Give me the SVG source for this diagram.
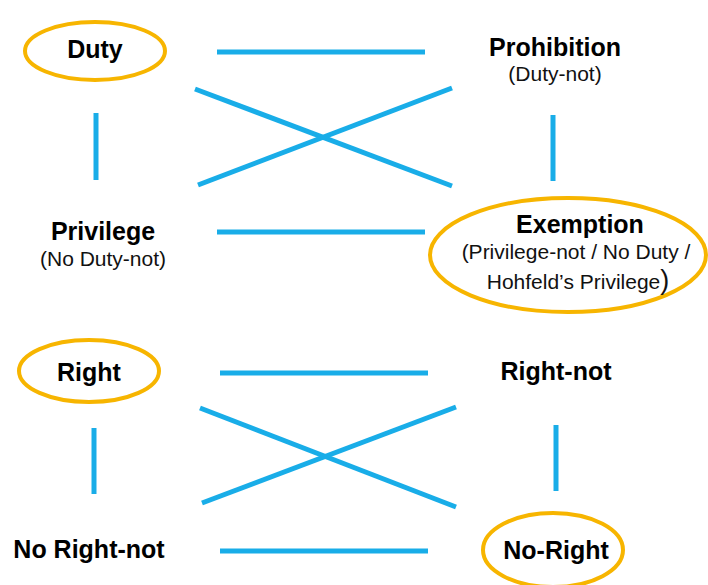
<svg xmlns="http://www.w3.org/2000/svg" width="708" height="585" viewBox="0 0 708 585">
<style>
.bg{fill:#ffffff}
.ell{fill:none;stroke:#F7B500;stroke-width:4}
.h{font-family:"Liberation Sans",Arial,sans-serif;font-weight:bold;font-size:25px;fill:#000;text-anchor:middle}
.s{font-family:"Liberation Sans",Arial,sans-serif;font-size:21px;fill:#111;text-anchor:middle}
.c line{stroke:#19ADE8;stroke-width:5;stroke-linecap:butt}
</style>
<rect class="bg" x="0" y="0" width="708" height="585"/>
<g class="c" id="connectors">
<line x1="217" y1="52" x2="425" y2="52"/>
<line x1="195" y1="89" x2="452" y2="186"/>
<line x1="198" y1="185" x2="452" y2="88"/>
<line x1="96" y1="113" x2="96" y2="180"/>
<line x1="553" y1="115" x2="553" y2="181"/>
<line x1="217" y1="232" x2="425" y2="232"/>
<line x1="220" y1="373" x2="428" y2="373"/>
<line x1="200" y1="408" x2="456" y2="507"/>
<line x1="202" y1="503" x2="456" y2="407"/>
<line x1="94" y1="428" x2="94" y2="494"/>
<line x1="556" y1="425" x2="556" y2="491"/>
<line x1="220" y1="551" x2="428" y2="551"/>
</g>
<g id="duty">
<ellipse class="ell" cx="95" cy="51" rx="70" ry="29"/>
<text class="h" x="95" y="58">Duty</text>
</g>
<g id="prohibition">
<text class="h" x="555" y="56">Prohibition</text>
<text class="s" x="555" y="81">(Duty-not)</text>
</g>
<g id="privilege">
<text class="h" x="103" y="240">Privilege</text>
<text class="s" x="103" y="266">(No Duty-not)</text>
</g>
<g id="exemption">
<ellipse class="ell" cx="568" cy="255" rx="138" ry="57"/>
<text class="h" x="580" y="233">Exemption</text>
<text class="s" x="576" y="259">(Privilege-not / No Duty /</text>
<text class="s" x="578" y="289">Hohfeld’s Privilege<tspan font-size="27">)</tspan></text>
</g>
<g id="right">
<ellipse class="ell" cx="89" cy="371" rx="70" ry="31"/>
<text class="h" x="89" y="381">Right</text>
</g>
<g id="right-not">
<text class="h" x="556" y="380">Right-not</text>
</g>
<g id="no-right-not">
<text class="h" x="89" y="558">No Right-not</text>
</g>
<g id="no-right">
<ellipse class="ell" cx="553" cy="550" rx="70" ry="37"/>
<text class="h" x="556" y="559">No-Right</text>
</g>
</svg>
